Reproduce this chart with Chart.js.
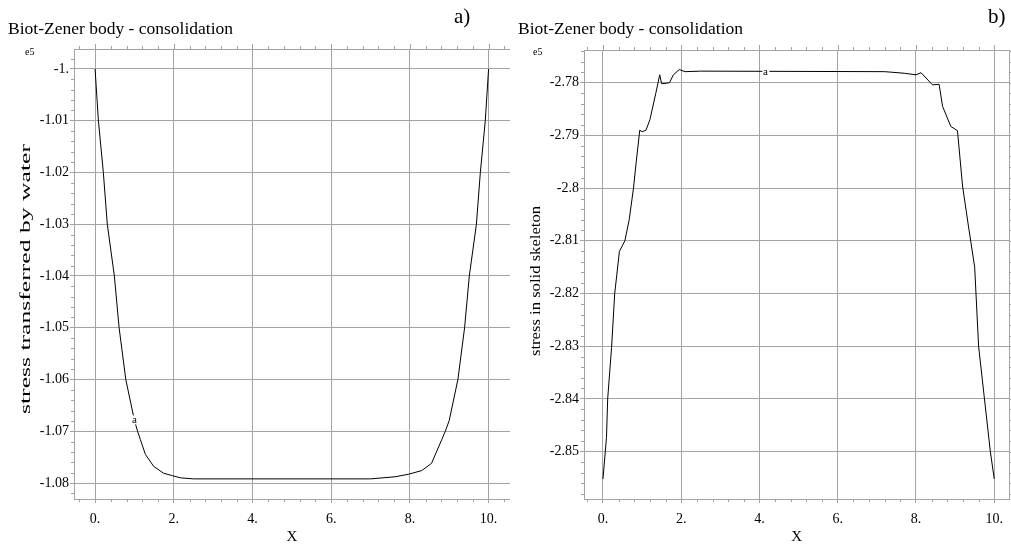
<!DOCTYPE html>
<html>
<head>
<meta charset="utf-8">
<script src="https://cdn.jsdelivr.net/npm/chart.js@4/dist/chart.umd.min.js"></script>
<style>
html, body { margin: 0; padding: 0; background: #fff; }
#wrap { position: relative; width: 1011px; height: 549px; overflow: hidden; }
#wrap canvas { position: absolute; top: 0; }
</style>
</head>
<body>
<div id="wrap">
  <canvas id="chartA" width="510" height="549" style="left:0;width:510px;height:549px"></canvas>
  <canvas id="chartB" width="501" height="549" style="left:510px;width:501px;height:549px"></canvas>
</div>
<script>
// values are in units of 1e5 (axis shows "e5")
const waterX = [0, 0.084, 0.21, 0.31, 0.49, 0.61, 0.78, 1.0, 1.08, 1.15, 1.28, 1.49, 1.74, 1.97, 2.17, 2.5,
  7.0, 7.62, 7.97, 8.3, 8.55, 8.81, 8.9, 9.0, 9.22, 9.39, 9.51, 9.69, 9.79, 9.916, 10];
const waterY = [-1.0, -1.01, -1.02, -1.03, -1.04, -1.05, -1.06, -1.0679, -1.07, -1.0716, -1.0745, -1.0768, -1.0781, -1.0786, -1.079, -1.0792,
  -1.0792, -1.0788, -1.0783, -1.0776, -1.0762, -1.0716, -1.07, -1.0679, -1.06, -1.05, -1.04, -1.03, -1.02, -1.01, -1.0];

const skelX = [0, 0.09, 0.12, 0.22, 0.3, 0.42, 0.56, 0.67, 0.78, 0.85, 0.94, 1.0, 1.1, 1.2, 1.35, 1.45, 1.5, 1.7, 1.8, 1.95, 2.1, 2.5,
  7.2, 7.7, 8.0, 8.13, 8.42, 8.59, 8.68, 8.89, 9.06, 9.19, 9.34, 9.5, 9.6, 9.75, 9.9, 10];
const skelY = [-2.8552, -2.8473, -2.84, -2.8302, -2.82, -2.812, -2.81, -2.806, -2.8, -2.795, -2.789, -2.7893, -2.789, -2.787, -2.782, -2.7785, -2.7802, -2.78, -2.7785, -2.7775, -2.7779, -2.7778,
  -2.7779, -2.7782, -2.7785, -2.7781, -2.7804, -2.7803, -2.7845, -2.7883, -2.7891, -2.7996, -2.8072, -2.815, -2.83, -2.84, -2.85, -2.8552];

const xTicks = [0, 2, 4, 6, 8, 10];
const xTickLabels = ["0.", "2.", "4.", "6.", "8.", "10."];
const waterTicks = [-1.0, -1.01, -1.02, -1.03, -1.04, -1.05, -1.06, -1.07, -1.08];
const waterTickLabels = ["-1.", "-1.01", "-1.02", "-1.03", "-1.04", "-1.05", "-1.06", "-1.07", "-1.08"];
const skelTicks = [-2.78, -2.79, -2.8, -2.81, -2.82, -2.83, -2.84, -2.85];
const skelTickLabels = ["-2.78", "-2.79", "-2.8", "-2.81", "-2.82", "-2.83", "-2.84", "-2.85"];

const waterMark = { x: 1.0, y: -1.0679, text: "a" };
const skelMark = { x: 4.15, y: -2.7779, text: "a" };

const SERIF = "'Liberation Serif', 'Times New Roman', serif";
const GRID = "#a3a3a3";

// box round the plot, minor ticks, corner texts, stretched y title and the curve label
const framePlugin = {
  id: "frame",
  beforeDatasetsDraw(chart, args, opts) {
    const { ctx, chartArea: a, scales } = chart;
    ctx.save();
    ctx.strokeStyle = GRID;
    ctx.lineWidth = 1;
    ctx.strokeRect(Math.round(a.left) + 0.5, Math.round(a.top) + 0.5,
      Math.round(a.right - a.left), Math.round(a.bottom - a.top));
    ctx.beginPath();
    const xs = scales.x;
    for (let v = -0.4; v <= xs.max; v += 0.4) {
      const px = Math.round(xs.getPixelForValue(v)) + 0.5;
      if (px < a.left || px > a.right) continue;
      const major = Math.abs(v / 2 - Math.round(v / 2)) < 1e-6;
      const len = major ? 5 : 3;
      ctx.moveTo(px, a.top); ctx.lineTo(px, a.top - len);
      if (!major) { ctx.moveTo(px, a.bottom); ctx.lineTo(px, a.bottom + len); }
    }
    const ys = scales.y;
    const step = 0.002;
    for (let k = Math.ceil(ys.min / step); k * step <= ys.max; k++) {
      const py = Math.round(ys.getPixelForValue(k * step)) + 0.5;
      if (py < a.top || py > a.bottom) continue;
      const major = k % 5 === 0;
      const len = major ? 5 : 3;
      if (!major) { ctx.moveTo(a.left, py); ctx.lineTo(a.left - len, py); }
      ctx.moveTo(a.right, py); ctx.lineTo(a.right + len, py);
    }
    ctx.stroke();
    ctx.restore();
  },
  afterDatasetsDraw(chart, args, opts) {
    const { ctx, scales } = chart;
    ctx.save();
    const m = opts.mark;
    const px = scales.x.getPixelForValue(m.x), py = scales.y.getPixelForValue(m.y);
    ctx.font = "11px " + SERIF;
    ctx.fillStyle = "#fff";
    ctx.fillRect(px - 3, py - 5, 7, 9);
    ctx.fillStyle = "#000";
    ctx.textAlign = "center";
    ctx.textBaseline = "middle";
    ctx.fillText(m.text, px, py);
    ctx.textAlign = "left";
    ctx.font = "10px " + SERIF;
    ctx.fillText("e5", opts.e5x, 52);
    ctx.font = "21px " + SERIF;
    ctx.fillText(opts.corner, opts.cornerX, 17);
    // y axis title, drawn stretched along its length like the original
    ctx.font = "15px " + SERIF;
    ctx.textAlign = "center";
    const w = ctx.measureText(opts.yTitle).width;
    ctx.translate(26, opts.yTitleCenter);
    ctx.rotate(-Math.PI / 2);
    ctx.scale(opts.yTitleLength / w, 1);
    ctx.fillText(opts.yTitle, 0, 0);
    ctx.restore();
  }
};

function makeChart(id, xs, ys, yTicks, yLabels, xMin, xMax, yMin, yMax, frameOpts, titleBottom) {
  return new Chart(document.getElementById(id), {
    type: "line",
    data: {
      datasets: [{
        data: xs.map((x, i) => ({ x: x, y: ys[i] })),
        borderColor: "#000",
        borderWidth: 1,
        pointRadius: 0,
        tension: 0,
        fill: false
      }]
    },
    options: {
      responsive: false,
      animation: false,
      devicePixelRatio: 1,
      layout: { padding: { left: 8, right: 0, top: 0, bottom: 0 } },
      scales: {
        x: {
          type: "linear",
          min: xMin,
          max: xMax,
          afterBuildTicks: (s) => { s.ticks = xTicks.map(v => ({ value: v })); },
          afterFit: (s) => { s.height = 50; },
          ticks: {
            autoSkip: false,
            maxRotation: 0,
            padding: 8,
            color: "#000",
            font: { family: SERIF, size: 14 },
            callback: (v, i) => xTickLabels[i]
          },
          grid: { color: GRID, tickLength: 4, drawTicks: true },
          border: { color: GRID },
          title: {
            display: true,
            text: "X",
            color: "#000",
            font: { family: SERIF, size: 15 },
            padding: { top: 0, bottom: 3 }
          }
        },
        y: {
          type: "linear",
          min: yMin,
          max: yMax,
          afterBuildTicks: (s) => { s.ticks = yTicks.map(v => ({ value: v })); },
          afterFit: (s) => { s.width = 66; },
          ticks: {
            autoSkip: false,
            padding: 1,
            color: "#000",
            font: { family: SERIF, size: 14 },
            callback: (v, i) => yLabels[i]
          },
          grid: { color: GRID, tickLength: 4, drawTicks: true },
          border: { color: GRID },
          title: { display: false }
        }
      },
      plugins: {
        legend: { display: false },
        tooltip: { enabled: false },
        title: {
          display: true,
          text: "Biot-Zener body - consolidation",
          align: "start",
          color: "#000",
          font: { family: SERIF, size: 17.5, weight: "normal" },
          padding: { top: 18.5, bottom: titleBottom }
        },
        frame: frameOpts
      }
    },
    plugins: [framePlugin]
  });
}

makeChart("chartA", waterX, waterY, waterTicks, waterTickLabels, -0.536, 10.544, -1.08309, -0.99614,
  { mark: waterMark, corner: "a)", cornerX: 454, e5x: 25,
    yTitle: "stress transferred by water", yTitleCenter: 279, yTitleLength: 270 }, 9.5);
makeChart("chartB", skelX, skelY, skelTicks, skelTickLabels, -0.485, 10.38, -2.8590, -2.77379,
  { mark: skelMark, corner: "b)", cornerX: 478, e5x: 23,
    yTitle: "stress in solid skeleton", yTitleCenter: 281, yTitleLength: 150 }, 10.5);
</script>
</body>
</html>
